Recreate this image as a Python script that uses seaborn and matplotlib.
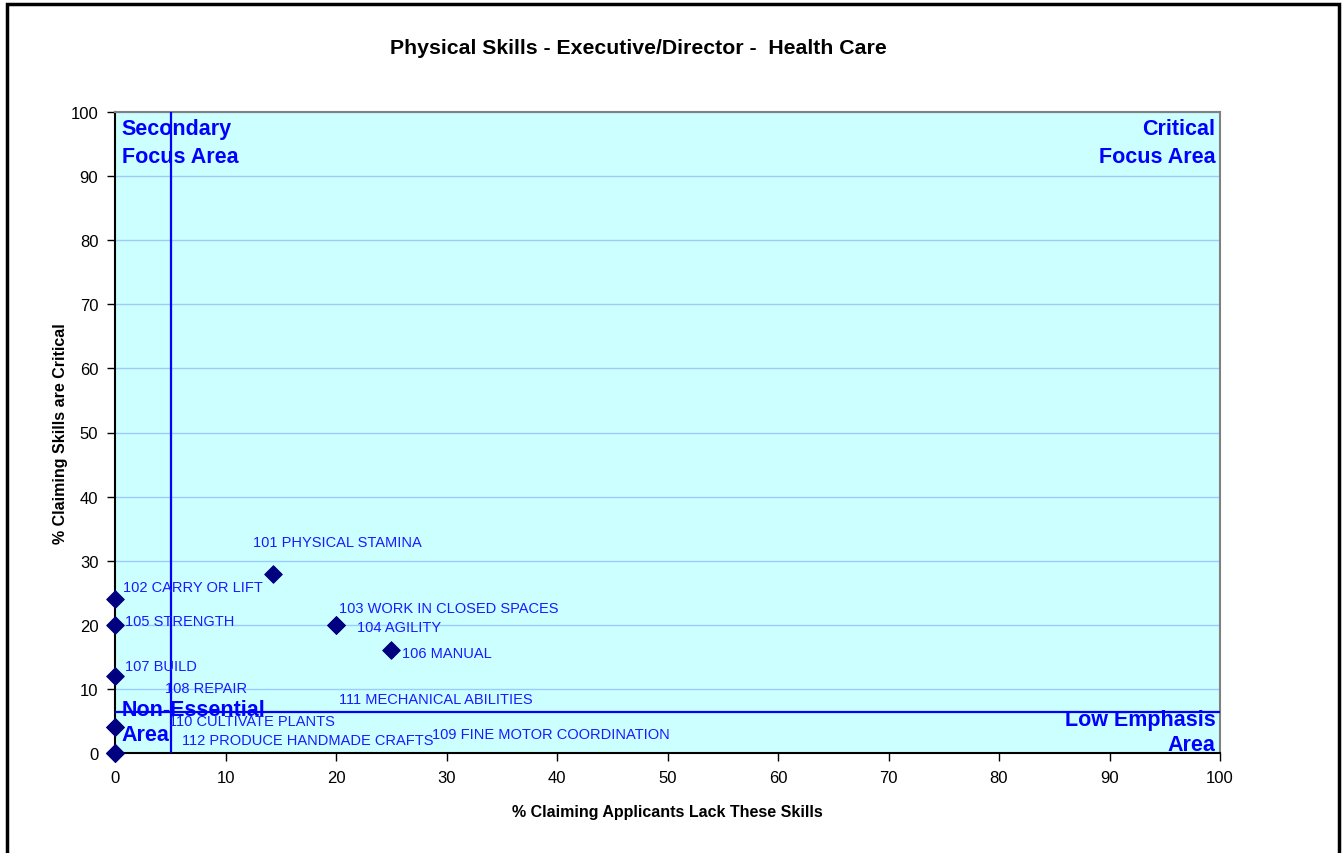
import matplotlib
matplotlib.use("Agg")
import matplotlib.pyplot as plt
import seaborn as sns
import pandas as pd

# data
skills = ["101 PHYSICAL STAMINA", "102 CARRY OR LIFT", "103 WORK IN CLOSED SPACES",
          "104 AGILITY", "105 STRENGTH", "106 MANUAL", "107 BUILD", "108 REPAIR",
          "109 FINE MOTOR COORDINATION", "110 CULTIVATE PLANTS",
          "111 MECHANICAL ABILITIES", "112 PRODUCE HANDMADE CRAFTS"]
lack = [14.3, 0, 20, 20, 0, 25, 0, 0, 0, 0, 0, 0]
critical = [28, 24, 20, 20, 20, 16, 12, 4, 0, 4, 0, 0]

# label placement (moved by hand in the original)
label_x = [12.5, 0.7, 20.3, 21.9, 0.95, 26.0, 0.95, 4.5, 28.7, 4.9, 20.3, 6.1]
label_y = [32.9, 25.9, 22.6, 19.7, 20.6, 15.6, 13.6, 10.1, 3.0, 5.0, 8.4, 2.0]

x_split = 5.1
y_split = 6.4

df = pd.DataFrame({"skill": skills, "lack": lack, "critical": critical})

sns.set_style("white")
plt.rcParams["font.family"] = ["Liberation Sans", "DejaVu Sans"]
plt.rcParams["text.color"] = "black"
plt.rcParams["axes.labelcolor"] = "black"
plt.rcParams["xtick.color"] = "black"
plt.rcParams["ytick.color"] = "black"

fig = plt.figure(figsize=(13.43, 8.54), dpi=100)
ax = fig.add_axes([115 / 1343, 100 / 854, 1105 / 1343, 641 / 854])
ax.set_facecolor("#CCFFFF")

for y in range(10, 101, 10):
    ax.axhline(y, color="#99CCFF", lw=1, zorder=0)

sns.scatterplot(data=df, x="lack", y="critical", marker="D", s=80,
                color="#000080", edgecolor="#000080", ax=ax, zorder=5, clip_on=False)

ax.axvline(x_split, color="#0000FF", lw=1.6, zorder=3)
ax.axhline(y_split, color="#0000FF", lw=1.6, zorder=3)

for name, lx, ly in zip(skills, label_x, label_y):
    ax.text(lx, ly, name, color="#1A1AFF", fontsize=10.5, va="center", ha="left", zorder=4)

qkw = dict(color="#0000FF", fontsize=15.5, fontweight="bold", zorder=6)
ax.text(0.6, 99.0, "Secondary\nFocus Area", ha="left", va="top", linespacing=1.4, **qkw)
ax.text(99.6, 99.0, "Critical\nFocus Area", ha="right", va="top", linespacing=1.4, **qkw)
ax.text(0.6, 1.3, "Non-Essential\nArea", ha="left", va="bottom", linespacing=1.25, **qkw)
ax.text(99.6, -0.3, "Low Emphasis\nArea", ha="right", va="bottom", linespacing=1.25, **qkw)

ax.set_xlim(0, 100)
ax.set_ylim(0, 100)
ax.set_xticks(range(0, 101, 10))
ax.set_yticks(range(0, 101, 10))
ax.tick_params(axis="both", direction="out", length=6, width=1, color="black",
               labelsize=12, pad=6, left=True, bottom=True)
for side in ["top", "right"]:
    ax.spines[side].set_color("#808080")
    ax.spines[side].set_linewidth(1.5)
for side in ["left", "bottom"]:
    ax.spines[side].set_color("black")
    ax.spines[side].set_linewidth(1.5)

ax.set_xlabel("% Claiming Applicants Lack These Skills", fontsize=11.5,
              fontweight="bold", labelpad=14)
ax.set_ylabel("% Claiming Skills are Critical", fontsize=11.5,
              fontweight="bold", labelpad=2)

fig.text(638 / 1343, 1 - 48 / 854, "Physical Skills - Executive/Director -  Health Care",
         ha="center", va="center", fontsize=15.3, fontweight="bold")

# outer chart frame
fig.patches.append(plt.Rectangle((7 / 1343, -0.05), 1332 / 1343, 1.05 - 5 / 854,
                                 transform=fig.transFigure, fill=False,
                                 edgecolor="black", lw=2.5))

plt.savefig("out.png", dpi=100)
